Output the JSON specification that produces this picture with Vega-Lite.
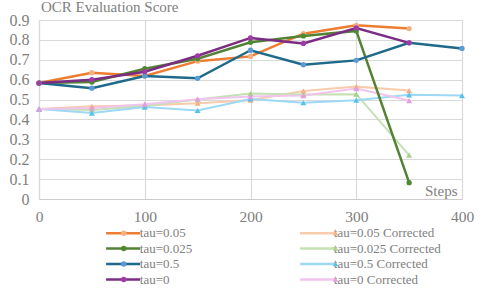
{
  "$schema": "https://vega.github.io/schema/vega-lite/v6.json",
  "width": 423,
  "height": 179,
  "autosize": "none",
  "padding": {"left": 39, "top": 20, "right": 36, "bottom": 89},
  "background": "white",
  "title": {"text": "OCR Evaluation Score", "anchor": "start", "frame": "group", "font": "Liberation Serif", "fontSize": 15, "fontWeight": "normal", "color": "#808080", "offset": 3, "dx": 2, "dy": 5.5},
  "config": {
    "font": "Liberation Serif",
    "view": {"stroke": null}
  },
  "data": {"values": [
    {"step": 0, "series": "tau=0.05 Corrected", "value": 0.452},
    {"step": 50, "series": "tau=0.05 Corrected", "value": 0.466},
    {"step": 100, "series": "tau=0.05 Corrected", "value": 0.470},
    {"step": 150, "series": "tau=0.05 Corrected", "value": 0.482},
    {"step": 200, "series": "tau=0.05 Corrected", "value": 0.497},
    {"step": 250, "series": "tau=0.05 Corrected", "value": 0.543},
    {"step": 300, "series": "tau=0.05 Corrected", "value": 0.565},
    {"step": 350, "series": "tau=0.05 Corrected", "value": 0.545},
    {"step": 0, "series": "tau=0.025 Corrected", "value": 0.452},
    {"step": 50, "series": "tau=0.025 Corrected", "value": 0.448},
    {"step": 100, "series": "tau=0.025 Corrected", "value": 0.468},
    {"step": 150, "series": "tau=0.025 Corrected", "value": 0.500},
    {"step": 200, "series": "tau=0.025 Corrected", "value": 0.530},
    {"step": 250, "series": "tau=0.025 Corrected", "value": 0.525},
    {"step": 300, "series": "tau=0.025 Corrected", "value": 0.527},
    {"step": 350, "series": "tau=0.025 Corrected", "value": 0.221},
    {"step": 0, "series": "tau=0.5 Corrected", "value": 0.452},
    {"step": 50, "series": "tau=0.5 Corrected", "value": 0.432},
    {"step": 100, "series": "tau=0.5 Corrected", "value": 0.462},
    {"step": 150, "series": "tau=0.5 Corrected", "value": 0.445},
    {"step": 200, "series": "tau=0.5 Corrected", "value": 0.503},
    {"step": 250, "series": "tau=0.5 Corrected", "value": 0.484},
    {"step": 300, "series": "tau=0.5 Corrected", "value": 0.497},
    {"step": 350, "series": "tau=0.5 Corrected", "value": 0.524},
    {"step": 400, "series": "tau=0.5 Corrected", "value": 0.520},
    {"step": 0, "series": "tau=0 Corrected", "value": 0.452},
    {"step": 50, "series": "tau=0 Corrected", "value": 0.458},
    {"step": 100, "series": "tau=0 Corrected", "value": 0.477},
    {"step": 150, "series": "tau=0 Corrected", "value": 0.502},
    {"step": 200, "series": "tau=0 Corrected", "value": 0.515},
    {"step": 250, "series": "tau=0 Corrected", "value": 0.520},
    {"step": 300, "series": "tau=0 Corrected", "value": 0.555},
    {"step": 350, "series": "tau=0 Corrected", "value": 0.495},
    {"step": 0, "series": "tau=0.05", "value": 0.583},
    {"step": 50, "series": "tau=0.05", "value": 0.635},
    {"step": 100, "series": "tau=0.05", "value": 0.619},
    {"step": 150, "series": "tau=0.05", "value": 0.693},
    {"step": 200, "series": "tau=0.05", "value": 0.717},
    {"step": 250, "series": "tau=0.05", "value": 0.831},
    {"step": 300, "series": "tau=0.05", "value": 0.873},
    {"step": 350, "series": "tau=0.05", "value": 0.857},
    {"step": 0, "series": "tau=0.025", "value": 0.583},
    {"step": 50, "series": "tau=0.025", "value": 0.588},
    {"step": 100, "series": "tau=0.025", "value": 0.655},
    {"step": 150, "series": "tau=0.025", "value": 0.705},
    {"step": 200, "series": "tau=0.025", "value": 0.788},
    {"step": 250, "series": "tau=0.025", "value": 0.820},
    {"step": 300, "series": "tau=0.025", "value": 0.845},
    {"step": 350, "series": "tau=0.025", "value": 0.082},
    {"step": 0, "series": "tau=0.5", "value": 0.583},
    {"step": 50, "series": "tau=0.5", "value": 0.557},
    {"step": 100, "series": "tau=0.5", "value": 0.618},
    {"step": 150, "series": "tau=0.5", "value": 0.607},
    {"step": 200, "series": "tau=0.5", "value": 0.748},
    {"step": 250, "series": "tau=0.5", "value": 0.675},
    {"step": 300, "series": "tau=0.5", "value": 0.697},
    {"step": 350, "series": "tau=0.5", "value": 0.785},
    {"step": 400, "series": "tau=0.5", "value": 0.757},
    {"step": 0, "series": "tau=0", "value": 0.583},
    {"step": 50, "series": "tau=0", "value": 0.600},
    {"step": 100, "series": "tau=0", "value": 0.640},
    {"step": 150, "series": "tau=0", "value": 0.720},
    {"step": 200, "series": "tau=0", "value": 0.810},
    {"step": 250, "series": "tau=0", "value": 0.782},
    {"step": 300, "series": "tau=0", "value": 0.860},
    {"step": 350, "series": "tau=0", "value": 0.785}
  ]},
  "encoding": {
    "x": {"field": "step", "type": "quantitative", "scale": {"domain": [0, 400], "nice": false},
      "axis": {"values": [0, 100, 200, 300, 400], "labelFlush": false, "labelFont": "Liberation Serif", "labelFontSize": 15.5, "labelColor": "#808080", "ticks": false, "grid": true, "gridColor": "#d9d9d9", "gridWidth": 1.2, "domainColor": "#cccccc", "domainWidth": 1.2, "labelPadding": 10, "title": "Steps", "titleX": 418, "titleY": -9, "titleAlign": "right", "titleBaseline": "middle", "titleFont": "Liberation Serif", "titleFontSize": 15, "titleFontWeight": "normal", "titleColor": "#808080"}},
    "y": {"field": "value", "type": "quantitative", "scale": {"domain": [0, 0.9], "nice": false},
      "axis": {"values": [0, 0.1, 0.2, 0.3, 0.4, 0.5, 0.6, 0.7, 0.8, 0.9], "format": ".1~f", "labelFlush": false, "labelFont": "Liberation Serif", "labelFontSize": 16, "labelColor": "#808080", "ticks": false, "grid": true, "gridColor": "#d9d9d9", "gridWidth": 1.2, "domainColor": "#d9d9d9", "domainWidth": 1.2, "labelPadding": 10, "title": null}}
  },
  "layer": [
    {
      "mark": {"type": "line"},
      "encoding": {
        "color": {"field": "series", "type": "nominal",
          "sort": ["tau=0.05", "tau=0.025", "tau=0.5", "tau=0", "tau=0.05 Corrected", "tau=0.025 Corrected", "tau=0.5 Corrected", "tau=0 Corrected"],
          "scale": {"range": ["#ED7D31", "#548235", "#1F6A8A", "#7B2C83", "#F8CBAD", "#C5E0B4", "#9DD8F5", "#F0C4EC"]},
          "legend": {"orient": "none", "legendX": 64, "legendY": 206.5, "padding": 0, "columns": 2, "columnPadding": 102, "rowPadding": 1.5, "symbolType": "M-5,0H5", "symbolSize": 46.24, "symbolOffset": 13.6, "symbolStrokeWidth": 2.5, "labelOffset": 10.2, "labelFont": "Liberation Serif", "labelFontSize": 13, "labelColor": "#808080", "title": null}},
        "strokeWidth": {"condition": {"test": "indexof(datum.series, 'Corrected') >= 0", "value": 2}, "value": 2.5}
      }
    },
    {
      "mark": {"type": "point", "filled": true, "opacity": 1, "strokeWidth": 0},
      "encoding": {
        "fill": {"field": "series", "type": "nominal",
          "scale": {"domain": ["tau=0.05", "tau=0.025", "tau=0.5", "tau=0", "tau=0.05 Corrected", "tau=0.025 Corrected", "tau=0.5 Corrected", "tau=0 Corrected"],
            "range": ["#F4B183", "#4E8A2E", "#5B9BD5", "#9E3BA6", "#F4B183", "#A9D18E", "#5BC0EB", "#E0A0E0"]},
          "legend": {"orient": "none", "legendX": 64, "legendY": 206.5, "padding": 0, "columns": 2, "columnPadding": 172.8, "rowPadding": 1.5, "symbolOffset": 14.26, "symbolSize": 30, "symbolStrokeWidth": 0, "labelOffset": 11.5, "labelExpr": "''", "labelFont": "Liberation Serif", "labelFontSize": 13, "title": null}},
        "shape": {"field": "series", "type": "nominal",
          "scale": {"domain": ["tau=0.05", "tau=0.025", "tau=0.5", "tau=0", "tau=0.05 Corrected", "tau=0.025 Corrected", "tau=0.5 Corrected", "tau=0 Corrected"],
            "range": ["circle", "circle", "circle", "circle", "triangle-up", "triangle-up", "triangle-up", "triangle-up"]}},
        "size": {"condition": {"test": "indexof(datum.series, 'Corrected') >= 0", "value": 36}, "value": 28}
      }
    }
  ]
}
